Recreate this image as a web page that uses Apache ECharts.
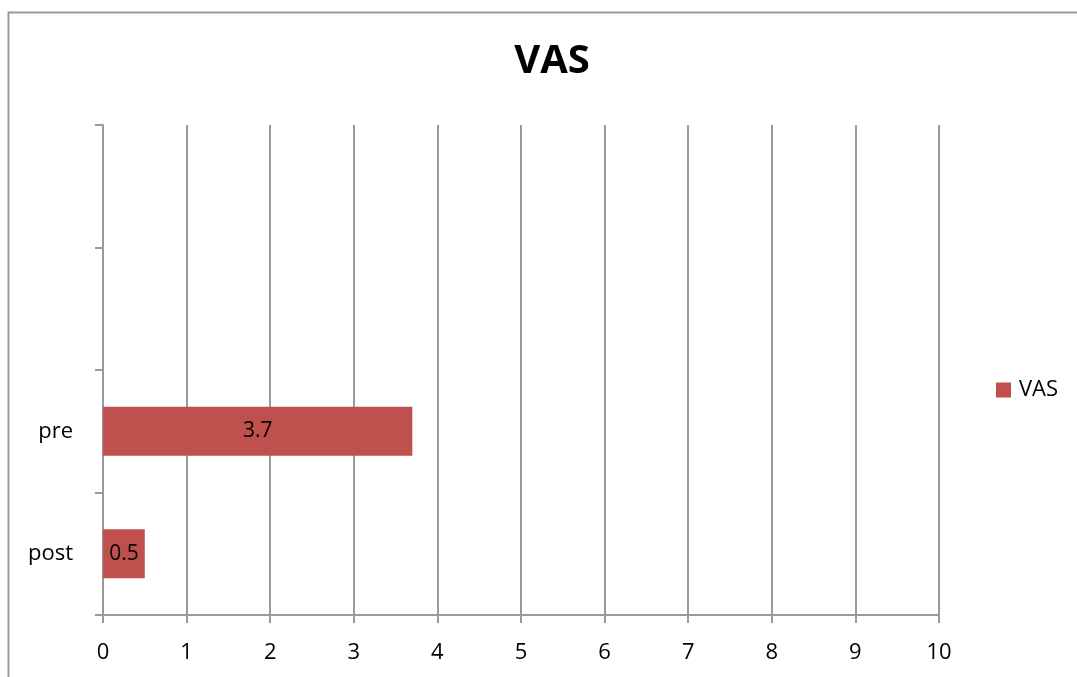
<!DOCTYPE html>
<html>
<head>
<meta charset="utf-8">
<script src="https://cdn.jsdelivr.net/npm/echarts@6/dist/echarts.min.js"></script>
<style>
  html, body { margin: 0; padding: 0; background: #fff; }
  #chart { width: 1077px; height: 677px; }
</style>
</head>
<body>
<div id="chart"></div>
<script>
// 数据
var categories = ['post', 'pre', '', ''];
var vasValues = [0.5, 3.7, null, null];
var xTicks = [0, 1, 2, 3, 4, 5, 6, 7, 8, 9, 10];

var myChart = echarts.init(document.getElementById('chart'));
var axisGray = '#9a9a9a';
var option = {
    backgroundColor: '#fff',
    textStyle: { fontFamily: 'Open Sans, DejaVu Sans, sans-serif' },
    title: {
        text: 'VAS',
        left: 547,
        textAlign: 'center',
        top: 37,
        textStyle: { fontSize: 40, fontWeight: 'bold', color: '#000', fontFamily: 'Open Sans, sans-serif' }
    },
    legend: {
        data: ['VAS'],
        orient: 'vertical',
        left: 991,
        top: 374,
        itemWidth: 15,
        itemHeight: 15,
        itemGap: 5,
        icon: 'rect',
        textStyle: { fontSize: 22, color: '#000', padding: [0, 0, 0, 3] }
    },
    grid: {
        left: 103,
        top: 125,
        right: 138,
        bottom: 62
    },
    xAxis: {
        type: 'value',
        min: xTicks[0],
        max: xTicks[xTicks.length - 1],
        interval: 1,
        axisLine: { show: true, lineStyle: { color: axisGray, width: 2 } },
        axisTick: { show: true, length: 8, lineStyle: { color: axisGray, width: 2 } },
        axisLabel: { fontSize: 22, color: '#000', margin: 27 },
        splitLine: { show: true, lineStyle: { color: axisGray, width: 2 } }
    },
    yAxis: {
        type: 'category',
        data: categories,
        axisLine: { show: true, lineStyle: { color: axisGray, width: 2 } },
        axisTick: { show: true, length: 8, lineStyle: { color: axisGray, width: 2 } },
        axisLabel: { fontSize: 22, color: '#000', margin: 30 },
        splitLine: { show: false }
    },
    series: [{
        name: 'VAS',
        type: 'bar',
        data: vasValues,
        barWidth: '40%',
        itemStyle: { color: '#C0504D' },
        label: {
            show: true,
            position: 'inside',
            fontSize: 21,
            color: '#000'
        }
    }],
    graphic: [{
        type: 'rect',
        silent: true,
        shape: { x: 8.5, y: 12.5, width: 1100, height: 700 },
        style: { fill: 'none', stroke: '#9a9a9a', lineWidth: 2 }
    }]
};
myChart.setOption(option);
</script>
</body>
</html>
